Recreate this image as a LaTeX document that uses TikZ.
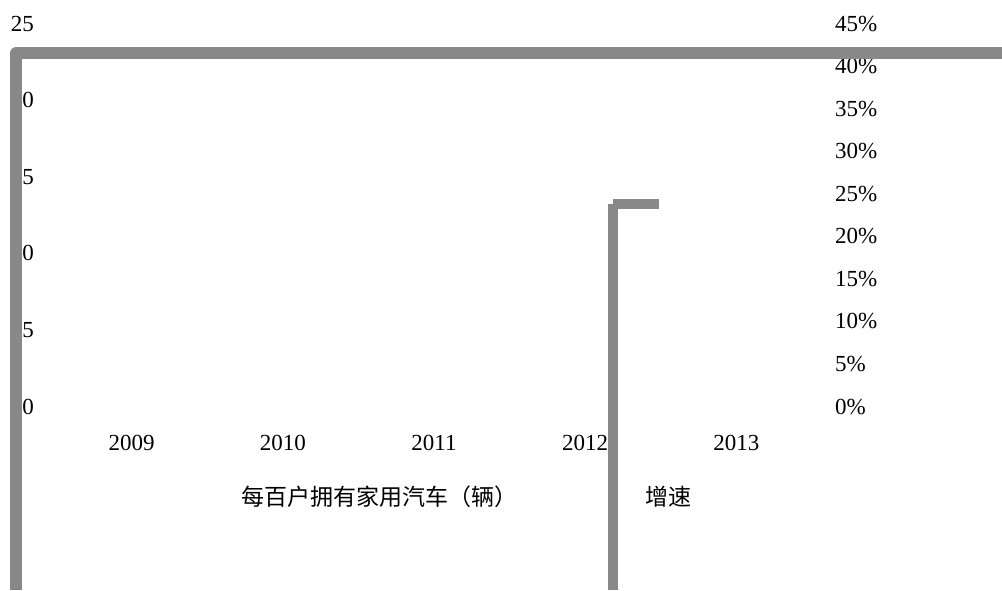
\documentclass[tikz,border=0pt]{standalone}
\usepackage{fontspec}
\setmainfont{Liberation Serif}
\newfontfamily\cjk{Noto Sans CJK SC}
\definecolor{framegray}{HTML}{888888}
\begin{document}
\begin{tikzpicture}[x=1pt,y=-1pt,
  lab/.style={inner sep=0pt, font=\fontsize{23}{27}\selectfont},
  ylab/.style={lab, anchor=base east},
  rlab/.style={lab, anchor=base west},
  xlab/.style={lab, anchor=base},
  leg/.style={inner sep=0pt, anchor=west, font=\fontsize{23}{27}\selectfont\cjk},
  framepath/.style={draw=framegray, line width=11.5pt, line join=round},
  barpath/.style={draw=framegray, line width=10pt}]
\useasboundingbox (0,0) rectangle (1002,590);
% left axis labels
\foreach \v [count=\i from 0] in {25,20,15,10,5,0}
  \node[ylab] (yl\i) at (34, 31+\i*76.6) {\v};
% right axis labels
\foreach \v [count=\i from 0] in {45,40,35,30,25,20,15,10,5,0}
  \node[rlab] (yr\i) at (835, 31+\i*42.56) {\v\%};
% category labels
\foreach \v [count=\i from 0] in {2009,2010,2011,2012,2013}
  \node[xlab] (xl\i) at (131.7+\i*151.15, 450) {\v};
% legend
\node[leg] (leg1) at (241, 497) {每百户拥有家用汽车（辆）};
\node[leg] (leg2) at (645, 497) {增速};
% gray frame lines
\coordinate (fb) at (16,590);
\coordinate (fc) at (16,53.2);
\coordinate (fe) at (1002,53.2);
\draw[framepath] (fb) -- (fc) -- (fe);
\coordinate (sb) at (613.3,590);
\coordinate (st) at (613.3,204);
\coordinate (se) at (659.3,204);
\draw[barpath] (sb) -- (st);
\draw[barpath] (st) -- (se);
\end{tikzpicture}
\end{document}
